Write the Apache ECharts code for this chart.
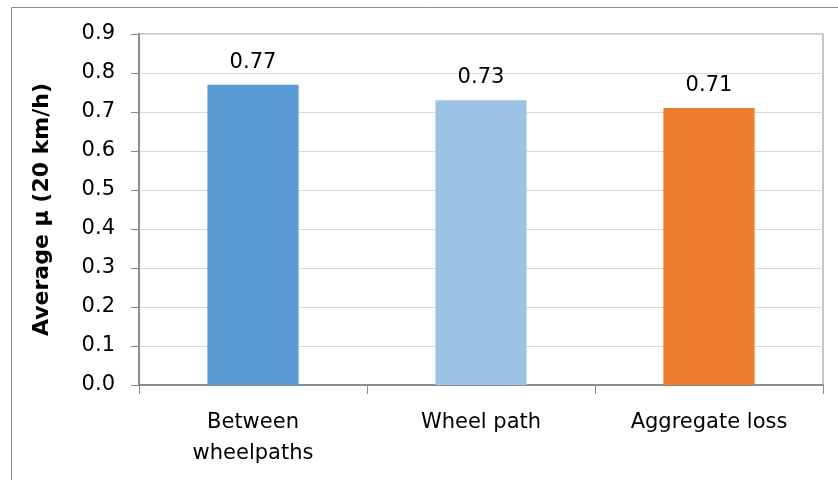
<!DOCTYPE html>
<html>
<head>
<meta charset="utf-8">
<script src="https://cdn.jsdelivr.net/npm/echarts@6/dist/echarts.min.js"></script>
<style>
  html, body { margin: 0; padding: 0; background: #ffffff; }
  #chart { width: 838px; height: 480px; }
</style>
</head>
<body>
<div id="chart"></div>
<script>
// Friction results by location
const categories = ['Between\nwheelpaths', 'Wheel path', 'Aggregate loss'];
const values = [0.77, 0.73, 0.71];
const barColors = ['#5B9BD5', '#9DC3E6', '#ED7D31'];
const yTicks = { min: 0, max: 0.9, interval: 0.1 };
const yTitle = 'Average μ (20 km/h)';

const font = 'DejaVu Sans';
const chart = echarts.init(document.getElementById('chart'), null, { renderer: 'canvas' });

chart.setOption({
  animation: false,
  backgroundColor: '#ffffff',
  graphic: [{
    type: 'rect',
    left: 9, top: 5,
    shape: { width: 900, height: 600 },
    style: { fill: 'none', stroke: '#8c8c8c', lineWidth: 1 },
    silent: true
  }],
  grid: {
    left: 139, right: 15, top: 34, bottom: 95,
    show: true,
    borderColor: '#8c8c8c',
    borderWidth: 1
  },
  xAxis: {
    type: 'category',
    data: categories,
    axisLine: { lineStyle: { color: '#8c8c8c', width: 2 } },
    axisTick: { show: true, length: 9, lineStyle: { color: '#8c8c8c' } },
    axisLabel: {
      fontFamily: font, fontSize: 21, color: '#000000',
      margin: 22, lineHeight: 31, interval: 0
    }
  },
  yAxis: {
    type: 'value',
    min: yTicks.min, max: yTicks.max, interval: yTicks.interval,
    name: yTitle,
    nameLocation: 'middle',
    nameGap: 86,
    nameRotate: 90,
    nameTextStyle: { fontFamily: font, fontSize: 22, fontWeight: 'bold', color: '#000000' },
    axisLine: { show: true, lineStyle: { color: '#8c8c8c', width: 2 } },
    axisTick: { show: true, length: 8, lineStyle: { color: '#8c8c8c' } },
    axisLabel: {
      fontFamily: font, fontSize: 21, color: '#000000', margin: 24,
      formatter: v => v.toFixed(1)
    },
    splitLine: { lineStyle: { color: '#d9d9d9', width: 1 } }
  },
  series: [{
    type: 'bar',
    data: values.map((v, i) => ({ value: v, itemStyle: { color: barColors[i] } })),
    barWidth: '40%',
    label: {
      show: true, position: 'top', distance: 12,
      fontFamily: font, fontSize: 21, color: '#000000',
      formatter: p => p.value.toFixed(2)
    }
  }]
});
</script>
</body>
</html>
